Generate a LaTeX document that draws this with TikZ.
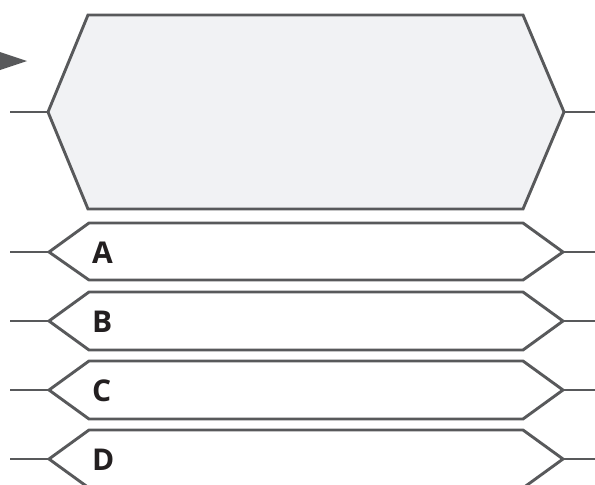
\documentclass[tikz,border=0pt]{standalone}
\usepackage{fontspec}
\setmainfont{Open Sans}
\definecolor{edge}{HTML}{58595B}
\definecolor{panel}{HTML}{F1F2F4}
\definecolor{ink}{HTML}{231F20}
\begin{document}
\begin{tikzpicture}[x=1pt,y=-1pt,
  outline/.style={draw=edge,line width=2.9pt,line join=miter},
  lead/.style={draw=edge,line width=2.9pt},
  tag/.style={anchor=base west,inner sep=0pt,font=\bfseries\fontsize{30}{30}\selectfont,text=ink}]
\useasboundingbox (0,0) rectangle (595,485);
\clip (0,0) rectangle (595,485);
% pointer triangle
\fill[edge] (-6,50) -- (27,61) -- (-6,72) -- cycle;
% big hexagon
\coordinate (bl) at (48,112);
\coordinate (br) at (564,112);
\coordinate (blend) at (10,112);
\coordinate (brend) at (600,112);
\filldraw[outline,fill=panel] (88,15) -- (523,15) -- (br) -- (523,209) -- (88,209) -- (bl) -- cycle;
\draw[lead] (blend) -- (bl);
\draw[lead] (br) -- (brend);
% small hexagons
\foreach \lab/\t/\m/\b in {A/223/252/280, B/292/321/350, C/361/390/419, D/430/459/488}{
  \coordinate (l\lab) at (49,\m);
  \coordinate (r\lab) at (563,\m);
  \coordinate (le\lab) at (10,\m);
  \coordinate (re\lab) at (600,\m);
  \draw[outline] (89,\t) -- (523,\t) -- (r\lab) -- (523,\b) -- (89,\b) -- (l\lab) -- cycle;
  \draw[lead] (le\lab) -- (l\lab);
  \draw[lead] (r\lab) -- (re\lab);
  \node[tag] (t\lab) at (92,\m+11) {\lab};
}
\end{tikzpicture}
\end{document}
